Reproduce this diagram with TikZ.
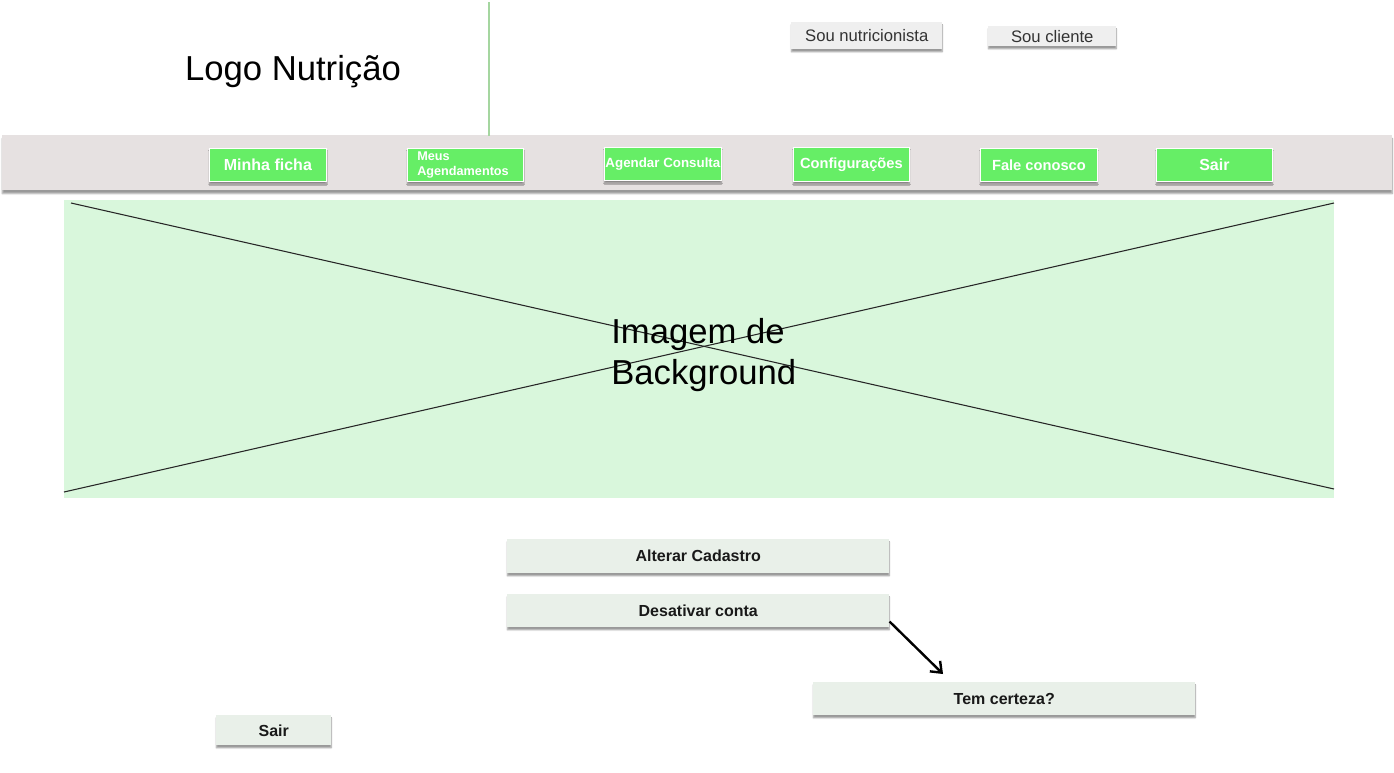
\documentclass[tikz,border=0pt]{standalone}
\usepackage{fontspec}
\setmainfont{Liberation Sans}
\usetikzlibrary{shadows,shadows.blur,arrows.meta}
\definecolor{btngreen}{HTML}{66EE66}
\definecolor{barg}{HTML}{E6E1E1}
\definecolor{imgg}{HTML}{D9F7DC}
\definecolor{lightbtn}{HTML}{E9F0E9}
\definecolor{topbtn}{HTML}{EFEFEF}
\definecolor{linegreen}{HTML}{A5D6A0}
\tikzset{
  pxsize/.style 2 args={minimum width={#1*0.75pt}, minimum height={#2*0.75pt}},
  shad/.style={blur shadow={shadow xshift=0pt, shadow yshift=-2pt, shadow blur radius=1pt, shadow blur steps=5, shadow opacity=40}},
  greenbtn/.style={anchor=north west, fill=btngreen, draw=white, line width=0.6pt, shad,
    inner sep=0pt, text=white, font=\bfseries\fontsize{12}{14}\selectfont},
  lightbox/.style={anchor=north west, fill=lightbtn, draw=none, shad, inner sep=0pt,
    text=black!90, font=\bfseries\fontsize{12}{14}\selectfont},
  topbox/.style={anchor=north west, fill=topbtn, draw=none, shad, inner sep=0pt,
    text=black!80, font=\fontsize{12.5}{14}\selectfont},
  cross/.style={draw=black!85, line width=0.8pt},
  arr/.style={draw=black, line width=1.8pt, -{Straight Barb[length=7pt, width=11pt, line width=1.8pt]}}
}
\begin{document}
\begin{tikzpicture}[x=0.75pt, y=-0.75pt]
\useasboundingbox (0,0) rectangle (1394,772);
% top bar
\node[anchor=north west, fill=barg, inner sep=0pt, pxsize={1390}{55},
  blur shadow={shadow xshift=0pt, shadow yshift=-2.5pt, shadow blur radius=1.2pt, shadow blur steps=5, shadow opacity=40}] (bar) at (2,135) {};
\draw[linegreen, line width=1.6pt] (489,2) coordinate (vtop) -- (489,136) coordinate (vbot);
% logo
\node[font=\fontsize{26}{30}\selectfont, text=black] (logo) at (293,72) {Logo Nutrição};
% top buttons
\node[topbox, pxsize={151}{27}] (nutri) at (791,22) {Sou nutricionista};
\node[topbox, pxsize={128}{20}] (cliente) at (988,26) {Sou cliente};
% menu buttons
\node[greenbtn, pxsize={117}{33}] (ficha) at (209,148) {Minha ficha};
\node[greenbtn, pxsize={116}{33}] (agend) at (407,148) {};
\node[anchor=north west, inner sep=0pt, text=white, align=left,
  font=\bfseries\fontsize{9.5}{11.2}\selectfont] (agendtxt) at (417,152) {Meus\\Agendamentos};
\node[greenbtn, pxsize={117}{33}, font=\bfseries\fontsize{10}{12}\selectfont] (consulta) at (604,147) {Agendar Consulta};
\node[greenbtn, pxsize={116}{34}, font=\bfseries\fontsize{11}{13}\selectfont] (config) at (793,147) {\raisebox{1.5pt}{Configurações}};
\node[greenbtn, pxsize={117}{33}, font=\bfseries\fontsize{11}{13}\selectfont] (fale) at (980,148) {Fale conosco};
\node[greenbtn, pxsize={116}{33}] (sair) at (1156,148) {Sair};
% image placeholder
\node[anchor=north west, fill=imgg, inner sep=0pt, pxsize={1270}{298}] (img) at (64,200) {};
\draw[cross] (71,203) coordinate (c1) -- (1334,489) coordinate (c2);
\draw[cross] (64,492) coordinate (c3) -- (1334,203) coordinate (c4);
\node[anchor=north west, inner sep=0pt, align=left, text=black,
  font=\fontsize{26}{31}\selectfont] (imgtxt) at (611,318) {Imagem de\\Background};
% lower buttons
\node[lightbox, pxsize={382}{34}] (alterar) at (507,539) {Alterar Cadastro};
\node[lightbox, pxsize={382}{33}] (desativar) at (507,594) {Desativar conta};
\node[lightbox, pxsize={382}{33}] (certeza) at (813,682) {Tem certeza?};
\node[lightbox, pxsize={115}{30}] (sairb) at (216,715) {Sair};
% arrow
\coordinate (arrend) at (943,674);
\draw[arr] ([yshift=4.5pt]desativar.south east) -- (arrend);
\end{tikzpicture}
\end{document}
